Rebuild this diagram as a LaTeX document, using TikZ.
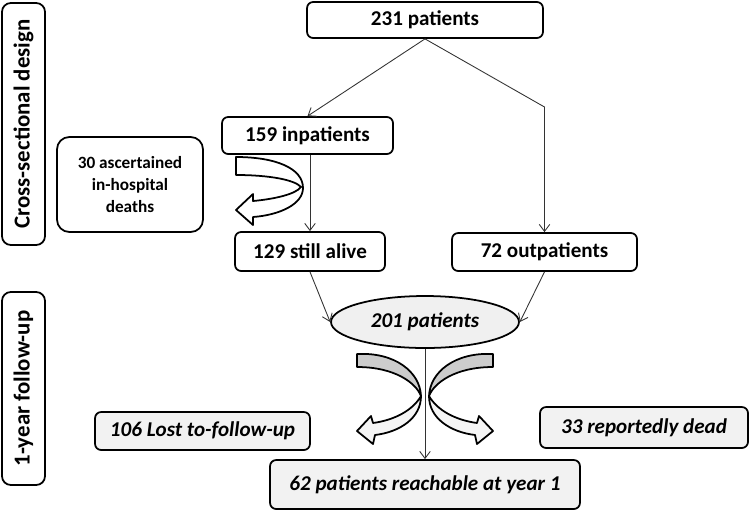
\documentclass[tikz,border=0pt]{standalone}
\usepackage{fontspec}
\setmainfont{Carlito}
\usetikzlibrary{arrows.meta,shapes.geometric}

\begin{document}
\begin{tikzpicture}[x=0.02cm, y=-0.02cm, font=\bfseries\fontsize{12}{14}\selectfont,
		box/.style={draw, line width=1pt, rounded corners=3.5pt, align=center, inner sep=0pt, fill=white},
		fup/.style={box, fill=gray!10, font=\bfseries\itshape\fontsize{12}{14}\selectfont},
		band/.style={box, rotate=90, minimum height=0.86cm, rounded corners=5pt, font=\bfseries\fontsize{13}{15}\selectfont},
		conn/.style={-{Straight Barb[length=4pt,width=6pt]}, draw=black!80, line width=0.5pt},
		curved/.style={draw, line width=1pt, line join=round}]
		\useasboundingbox (0,0) rectangle (750,511);
		\node(cross)[band, minimum width=4.84cm] at (23.5,124){Cross-sectional design};
		\node(follow)[band, minimum width=3.86cm] at (23.5,388.5){1-year follow-up};
		\node(all)[box, minimum width=4.72cm, minimum height=0.72cm] at (425,20){231 patients};
		\node(inpat)[box, minimum width=3.42cm, minimum height=0.74cm] at (307.5,135.5){159 inpatients};
		\node(deaths)[box, rounded corners=7pt, minimum width=2.92cm, minimum height=1.9cm,
			font=\bfseries\fontsize{9.8}{12.5}\selectfont] at (130,184.5){30 ascertained\\in-hospital\\deaths};
		\node(alive)[box, minimum width=3cm, minimum height=0.78cm] at (310,251.5){129 still alive};
		\node(outpat)[box, minimum width=3.7cm, minimum height=0.76cm] at (544.5,252){72 outpatients};
		\node(pool)[ellipse, draw, line width=1pt, fill=gray!12, inner sep=0pt, minimum width=3.76cm, minimum height=1.04cm,
			font=\bfseries\itshape\fontsize{12}{14}\selectfont] at (425,322){201 patients};
		\node(lost)[fup, minimum width=4.3cm, minimum height=0.76cm] at (202.5,431){106 Lost to-follow-up};
		\node(dead)[fup, minimum width=4.16cm, minimum height=0.82cm] at (644,427.5){33 reportedly dead};
		\node(reach)[fup, minimum width=6.2cm, minimum height=0.98cm] at (425,484.5){62 patients reachable at year 1};
		\coordinate(split) at (544.5,107);
		\draw[conn](all.south) -- (inpat.north);
		\draw[conn](all.south) -- (split) -- (outpat.north);
		\draw[conn](alive.north |- inpat.south) -- (alive.north);
		\draw[conn](alive.south) -- (pool.west);
		\draw[conn](outpat.south) -- (pool.east);
		\draw[conn](pool.south) -- (reach.north);
		\draw[curved, fill=white](236,157) .. controls (275,157) and (303,168) .. (303,188)
			.. controls (303,204) and (280,215) .. (253,217) -- (253,225) -- (236,210) -- (253,194) -- (253,201)
			.. controls (275,199) and (296,194) .. (301,187) .. controls (295,180) and (270,175) .. (236,175) -- cycle;
		\foreach \s in {1,-1}{
			\begin{scope}[xshift=425*0.02cm, xscale=\s]
				\draw[curved, fill=gray!40](-68,354) .. controls (-30,352) and (-5,372) .. (-4,396)
					.. controls (-9,383) and (-30,367) .. (-68,367) -- cycle;
				\draw[curved, fill=gray!8](-4,396) .. controls (-4,418) and (-25,432) .. (-50,435) -- (-52,444) -- (-68,431)
					-- (-54,416) -- (-52,423) .. controls (-30,420) and (-12,410) .. (-4,396) -- cycle;
			\end{scope}
		}
	\end{tikzpicture}
\end{document}
